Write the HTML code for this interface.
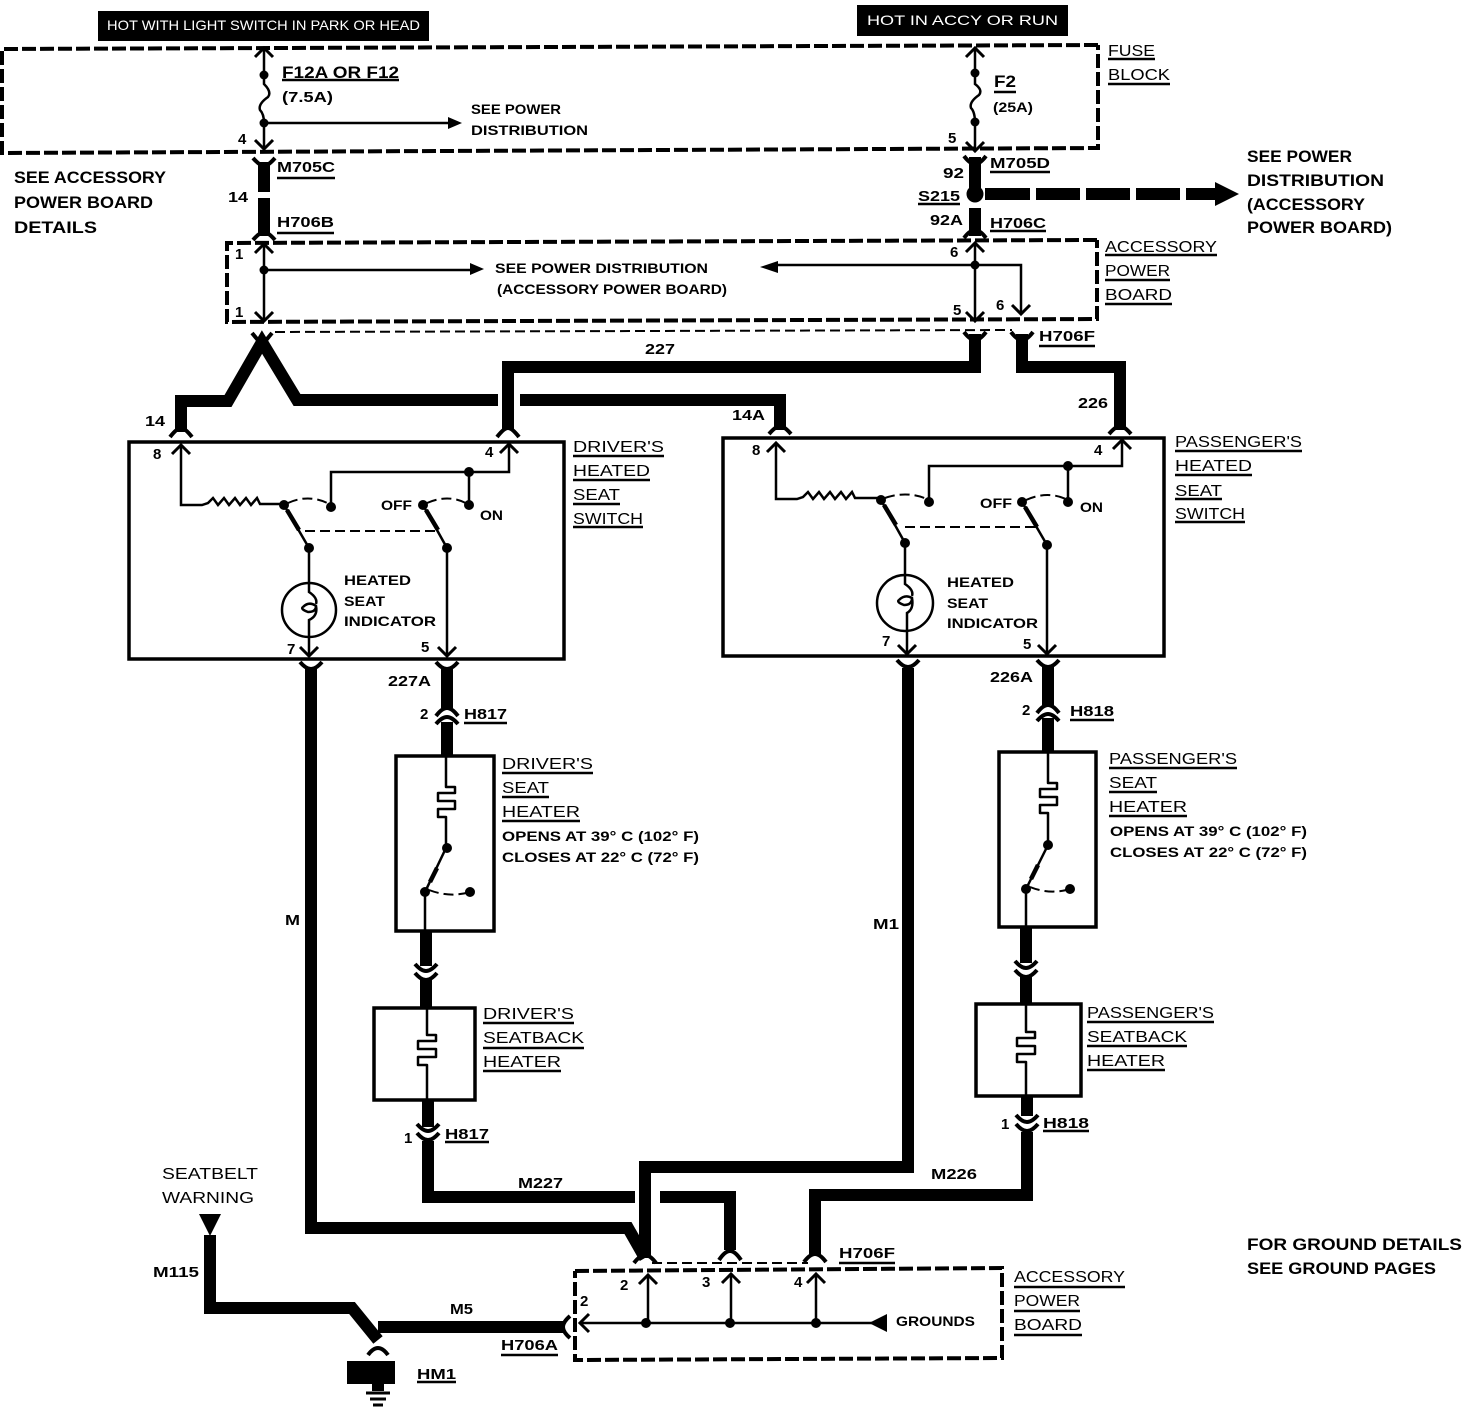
<!DOCTYPE html>
<html><head><meta charset="utf-8"><style>
html,body{margin:0;padding:0;background:#fff}
svg{display:block}
text{font-family:"Liberation Sans",sans-serif;font-weight:bold;fill:#000}
.a{font-size:17px}.b{font-size:15px}.c{font-size:13.5px}.d{font-size:15px}.w{fill:#fff;font-size:14px;font-weight:normal}
.n{font-size:16px;font-weight:normal}
</style></head><body>
<svg width="1462" height="1408" viewBox="0 0 1462 1408" xmlns="http://www.w3.org/2000/svg">
<rect width="1462" height="1408" fill="#fff"/>
<rect x="98" y="11" width="331" height="30" fill="#000"/>
<rect x="857" y="5" width="211" height="31" fill="#000"/>
<text class="w" x="107" y="30" textLength="313" lengthAdjust="spacingAndGlyphs">HOT WITH LIGHT SWITCH IN PARK OR HEAD</text>
<text class="w" x="867" y="25" textLength="191" lengthAdjust="spacingAndGlyphs">HOT IN ACCY OR RUN</text>

<!-- dashed boxes -->
<g fill="none" stroke="#000" stroke-width="4" stroke-dasharray="14 4">
<path d="M1098 45L2 49V153L1098 148V45"/>
<path d="M1097 240L227 243V322L1097 319V240"/>
<path d="M575 1271L1002 1268V1358L575 1360V1271"/>
</g>
<g fill="none" stroke="#000" stroke-width="2" stroke-dasharray="10 5">
<path d="M275 332L1012 330"/>
<path d="M652 1263H808"/>
<path d="M305 531H437"/>
<path d="M905 527H1035"/>
<path d="M288 503Q310 493 331 505"/>
<path d="M427 503Q450 493 469 505"/>
<path d="M885 498Q908 490 929 500"/>
<path d="M1026 500Q1048 490 1068 500"/>
<path d="M429 890Q450 898 470 892"/>
<path d="M1030 887Q1050 895 1070 889"/>
</g>

<!-- thick wires -->
<g fill="none" stroke="#000" stroke-width="12" stroke-linejoin="miter">
<path d="M264 162V192M264 198V236"/>
<path d="M975 157V190M975 208V236"/>
<path d="M975 334V367H508V430"/>
<path d="M1022 334V367H1120V430"/>
<path d="M181 432V401H228L262 342L297 400H498M520 400H780V430"/>
<path d="M311 668V1228H628L645 1258"/>
<path d="M908 668V1167H645V1258"/>
<path d="M447 668V708M447 722V756"/>
<path d="M1048 665V705M1048 718V752"/>
<path d="M426 931V966M426 980V1007"/>
<path d="M1026 927V963M1026 976V1003"/>
<path d="M428 1100V1127M428 1141V1197H635M660 1197H730V1250"/>
<path d="M1027 1096V1116M1027 1132V1195H815V1255"/>
<path d="M210 1235V1308H352L378 1340M378 1327H565"/>
<path d="M985 194H1030M1036 194H1080M1086 194H1130M1136 194H1180M1186 194H1218"/>
</g>
<path d="M1215 182L1239 194L1215 206Z"/>
<circle cx="975" cy="194" r="8.5"/>
<path d="M199 1214H221L210 1236Z"/>
<rect x="347" y="1361" width="48" height="23"/>
<path d="M372 1384H384V1391H372Z"/>

<!-- connector forks -->
<g fill="none" stroke="#000" stroke-width="4">
<path d="M253 158Q260 166 264 166Q268 166 275 158"/>
<path d="M253 240Q260 232 264 232Q268 232 275 240"/>
<path d="M964 156Q970 164 975 164Q980 164 986 156"/>
<path d="M964 238Q970 230 975 230Q980 230 986 238"/>
<path d="M252 333L262 345L272 333"/>
<path d="M964 332Q970 340 975 340Q980 340 986 332"/>
<path d="M1011 332Q1017 340 1022 340Q1027 340 1033 332"/>
<path d="M170 437Q177 428 181 428Q185 428 192 437"/>
<path d="M497 437Q504 428 508 428Q512 428 519 437"/>
<path d="M769 434Q776 426 780 426Q784 426 791 434"/>
<path d="M1109 434Q1116 426 1120 426Q1124 426 1131 434"/>
<path d="M300 662Q306 669 311 669Q316 669 322 662"/>
<path d="M436 662Q442 669 447 669Q452 669 458 662"/>
<path d="M897 660Q903 667 908 667Q913 667 919 660"/>
<path d="M1037 660Q1043 667 1048 667Q1053 667 1059 660"/>
<path d="M436 716Q442 708 447 708Q452 708 458 716"/>
<path d="M436 724Q442 717 447 717Q452 717 458 724"/>
<path d="M1037 713Q1043 705 1048 705Q1053 705 1059 713"/>
<path d="M1037 721Q1043 714 1048 714Q1053 714 1059 721"/>
<path d="M415 964Q421 971 426 971Q431 971 437 964"/>
<path d="M415 973Q421 980 426 980Q431 980 437 973"/>
<path d="M1015 961Q1021 968 1026 968Q1031 968 1037 961"/>
<path d="M1015 970Q1021 977 1026 977Q1031 977 1037 970"/>
<path d="M417 1124Q423 1131 428 1131Q433 1131 439 1124"/>
<path d="M417 1133Q423 1140 428 1140Q433 1140 439 1133"/>
<path d="M1016 1115Q1022 1122 1027 1122Q1032 1122 1038 1115"/>
<path d="M1016 1124Q1022 1131 1027 1131Q1032 1131 1038 1124"/>
<path d="M634 1263Q640 1255 645 1255Q650 1255 656 1263"/>
<path d="M719 1260Q725 1251 730 1251Q735 1251 741 1260"/>
<path d="M804 1262Q810 1254 815 1254Q820 1254 826 1262"/>
<path d="M368 1355Q373 1348 378 1348Q383 1348 388 1355"/>
<path d="M570 1316Q563 1322 563 1327Q563 1332 570 1338"/>
</g>

<!-- thin wires -->
<g fill="none" stroke="#000" stroke-width="2.5">
<path d="M264 48V84Q272 92 268 97Q258 104 260 110Q264 114 264 123V148"/>
<path d="M975 48V84Q983 90 979 95Q969 102 971 108Q975 112 975 123V150"/>
<path d="M264 123H450"/>
<path d="M264 244V320M264 270H475"/>
<path d="M975 244V320M975 265H775M975 265H1021V314"/>
<path d="M181 445V505H202L208 503 213 498 218 505 224 498 229 505 235 498 240 505 246 498 251 505 257 498 260 504H284"/>
<path d="M331 507V472H509V444"/>
<path d="M469 472V505"/>
<path d="M284 505L309 548V582M309 636V656"/>
<path d="M423 505L447 548V656"/>
<path d="M309 582V592Q318 598 316 604M303 607Q309 601 316 606Q316 612 308 612Q300 609 303 607M316 606Q318 616 309 620V636"/>
<circle cx="309" cy="610" r="27"/>
<path d="M776 443V499H797L803 497 808 492 813 499 819 492 824 499 830 492 835 499 841 492 846 499 852 492 855 498H881"/>
<path d="M929 502V466H1122V440"/>
<path d="M1068 466V502"/>
<path d="M881 500L905 543V575M907 630V654"/>
<path d="M1022 502L1047 545V654"/>
<path d="M905 575V584Q914 590 912 596M899 600Q905 594 912 598Q912 605 904 605Q896 602 899 600M912 598Q914 609 907 613V630"/>
<circle cx="905" cy="603" r="28"/>
<path stroke-linejoin="round" d="M446 757V787H455V793H438V801H455V809H438V817H446V848L425 892V931"/>
<path stroke-linejoin="round" d="M1048 753V783H1057V789H1040V797H1057V805H1040V813H1048V845L1026 889V927"/>
<path stroke-linejoin="round" d="M427 1008V1035H436V1041H418V1049H436V1057H418V1065H427V1100"/>
<path stroke-linejoin="round" d="M1026 1004V1032H1035V1038H1017V1046H1035V1054H1017V1062H1026V1096"/>
<path d="M648 1323V1275M731 1323V1274M816 1323V1274M580 1323H872"/>
</g>
<g fill="none" stroke="#000" stroke-width="3">
<path d="M255 57L264 48L273 57"/>
<path d="M255 140L264 149L273 140"/>
<path d="M966 57L975 48L984 57"/>
<path d="M966 142L975 151L984 142"/>
<path d="M255 253L264 244L273 253"/>
<path d="M255 312L264 321L273 312"/>
<path d="M966 252L975 243L984 252"/>
<path d="M966 312L975 321L984 312"/>
<path d="M1012 305L1021 314L1030 305"/>
<path d="M172 454L181 445L190 454"/>
<path d="M500 453L509 444L518 453"/>
<path d="M767 452L776 443L785 452"/>
<path d="M1113 449L1122 440L1131 449"/>
<path d="M300 647L309 656L318 647"/>
<path d="M438 647L447 656L456 647"/>
<path d="M898 645L907 654L916 645"/>
<path d="M1038 645L1047 654L1056 645"/>
<path d="M639 1284L648 1275L657 1284"/>
<path d="M722 1283L731 1274L740 1283"/>
<path d="M807 1283L816 1274L825 1283"/>
<path d="M589 1314L580 1323L589 1332"/>
</g>
<path d="M448 117L462 123L448 129Z"/>
<path d="M470 263L484 269L470 275Z"/>
<path d="M760 267L778 261V273Z"/>
<path d="M869 1323L887 1314V1332Z"/>
<path d="M287 510L299 530" stroke="#000" stroke-width="4.5"/>
<path d="M426 510L438 530" stroke="#000" stroke-width="4.5"/>
<path d="M884 505L896 525" stroke="#000" stroke-width="4.5"/>
<path d="M1025 507L1037 527" stroke="#000" stroke-width="4.5"/>
<path d="M430 882L437 868" stroke="#000" stroke-width="4.5"/>
<path d="M1031 879L1038 865" stroke="#000" stroke-width="4.5"/>

<!-- boxes -->
<g fill="none" stroke="#000" stroke-width="3.5">
<rect x="129" y="442" width="435" height="217"/>
<rect x="723" y="438" width="441" height="218"/>
<rect x="396" y="756" width="98" height="175"/>
<rect x="999" y="752" width="97" height="175"/>
<rect x="374" y="1008" width="101" height="92"/>
<rect x="976" y="1004" width="105" height="92"/>
</g>

<!-- dots -->
<g>
<circle cx="264" cy="75" r="4.5"/><circle cx="264" cy="123" r="4.5"/>
<circle cx="975" cy="73" r="4.5"/><circle cx="975" cy="122" r="4.5"/>
<circle cx="264" cy="270" r="4.5"/><circle cx="975" cy="265" r="4.5"/>
<circle cx="284" cy="505" r="5"/><circle cx="331" cy="507" r="5"/><circle cx="469" cy="472" r="5"/><circle cx="469" cy="505" r="5"/><circle cx="423" cy="505" r="5"/><circle cx="309" cy="548" r="5"/><circle cx="447" cy="548" r="5"/>
<circle cx="881" cy="500" r="5"/><circle cx="929" cy="502" r="5"/><circle cx="1068" cy="466" r="5"/><circle cx="1068" cy="502" r="5"/><circle cx="1022" cy="502" r="5"/><circle cx="905" cy="543" r="5"/><circle cx="1047" cy="545" r="5"/>
<circle cx="447" cy="848" r="5"/><circle cx="425" cy="892" r="5"/><circle cx="470" cy="892" r="5"/>
<circle cx="1048" cy="845" r="5"/><circle cx="1026" cy="889" r="5"/><circle cx="1070" cy="889" r="5"/>
<circle cx="646" cy="1323" r="5"/><circle cx="730" cy="1323" r="5"/><circle cx="816" cy="1323" r="5"/>
</g>
<path d="M366 1393H390M370 1399H386M373 1405H383" stroke="#000" stroke-width="3" fill="none"/>

<!-- underlines -->
<path fill="none" stroke="#000" stroke-width="2.5" d="M282 80H399M277 178H335M277 233H334M994 92H1016M1108 59H1155M1108 84H1170M990 172H1050M918 204H960M990 231H1046M1105 255H1217M1105 280H1170M1105 304H1172M1039 346H1095M573 456H664M573 480H650M573 504H620M573 527H643M1175 451H1302M1175 475H1252M1175 499H1222M1175 522H1245M464 723H507M1070 720H1114M502 773H593M502 797H549M502 821H580M1109 768H1237M1109 792H1157M1109 816H1187M483 1023H574M483 1048H584M483 1071H561M1087 1022H1214M1087 1046H1187M1087 1070H1165M445 1142H489M1043 1131H1089M839 1263H895M1014 1287H1125M1014 1311H1080M1014 1335H1082M417 1382H456M501 1355H558"/>

<!-- labels -->
<text class="a" x="282" y="78" textLength="117" lengthAdjust="spacingAndGlyphs">F12A OR F12</text>
<text class="b" x="282" y="102" textLength="51" lengthAdjust="spacingAndGlyphs">(7.5A)</text>
<text class="c" x="471" y="114" textLength="90" lengthAdjust="spacingAndGlyphs">SEE POWER</text>
<text class="c" x="471" y="135" textLength="117" lengthAdjust="spacingAndGlyphs">DISTRIBUTION</text>
<text class="d" x="238" y="144">4</text>
<text class="b" x="277" y="172" textLength="58" lengthAdjust="spacingAndGlyphs">M705C</text>
<text class="b" x="228" y="202" textLength="20" lengthAdjust="spacingAndGlyphs">14</text>
<text class="b" x="277" y="227" textLength="57" lengthAdjust="spacingAndGlyphs">H706B</text>
<text class="a" x="14" y="183" textLength="152" lengthAdjust="spacingAndGlyphs">SEE ACCESSORY</text>
<text class="a" x="14" y="208" textLength="139" lengthAdjust="spacingAndGlyphs">POWER BOARD</text>
<text class="a" x="14" y="233" textLength="83" lengthAdjust="spacingAndGlyphs">DETAILS</text>
<text class="d" x="235" y="259">1</text><text class="d" x="235" y="317">1</text>
<text class="c" x="495" y="273" textLength="213" lengthAdjust="spacingAndGlyphs">SEE POWER DISTRIBUTION</text>
<text class="c" x="497" y="294" textLength="230" lengthAdjust="spacingAndGlyphs">(ACCESSORY POWER BOARD)</text>
<text class="a" x="994" y="87" textLength="22" lengthAdjust="spacingAndGlyphs">F2</text>
<text class="c" x="993" y="112" textLength="40" lengthAdjust="spacingAndGlyphs">(25A)</text>
<text class="d" x="948" y="143">5</text>
<text class="n" x="1108" y="56" textLength="47" lengthAdjust="spacingAndGlyphs">FUSE</text>
<text class="n" x="1108" y="80" textLength="62" lengthAdjust="spacingAndGlyphs">BLOCK</text>
<text class="b" x="990" y="168" textLength="60" lengthAdjust="spacingAndGlyphs">M705D</text>
<text class="b" x="943" y="178" textLength="21" lengthAdjust="spacingAndGlyphs">92</text>
<text class="b" x="918" y="201" textLength="42" lengthAdjust="spacingAndGlyphs">S215</text>
<text class="b" x="930" y="225" textLength="33" lengthAdjust="spacingAndGlyphs">92A</text>
<text class="b" x="990" y="228" textLength="56" lengthAdjust="spacingAndGlyphs">H706C</text>
<text class="a" x="1247" y="162" textLength="105" lengthAdjust="spacingAndGlyphs">SEE POWER</text>
<text class="a" x="1247" y="186" textLength="137" lengthAdjust="spacingAndGlyphs">DISTRIBUTION</text>
<text class="a" x="1247" y="210" textLength="118" lengthAdjust="spacingAndGlyphs">(ACCESSORY</text>
<text class="a" x="1247" y="233" textLength="145" lengthAdjust="spacingAndGlyphs">POWER BOARD)</text>
<text class="d" x="950" y="257">6</text><text class="d" x="953" y="315">5</text><text class="d" x="996" y="310">6</text>
<text class="n" x="1105" y="252" textLength="112" lengthAdjust="spacingAndGlyphs">ACCESSORY</text>
<text class="n" x="1105" y="276" textLength="65" lengthAdjust="spacingAndGlyphs">POWER</text>
<text class="n" x="1105" y="300" textLength="67" lengthAdjust="spacingAndGlyphs">BOARD</text>
<text class="b" x="1039" y="341" textLength="56" lengthAdjust="spacingAndGlyphs">H706F</text>
<text class="b" x="645" y="354" textLength="30" lengthAdjust="spacingAndGlyphs">227</text>
<text class="b" x="1078" y="408" textLength="30" lengthAdjust="spacingAndGlyphs">226</text>
<text class="b" x="145" y="426" textLength="20" lengthAdjust="spacingAndGlyphs">14</text>
<text class="b" x="732" y="420" textLength="33" lengthAdjust="spacingAndGlyphs">14A</text>
<text class="d" x="153" y="459">8</text><text class="d" x="485" y="457">4</text>
<text class="d" x="752" y="455">8</text><text class="d" x="1094" y="455">4</text>
<text class="n" x="573" y="452" textLength="91" lengthAdjust="spacingAndGlyphs">DRIVER'S</text>
<text class="n" x="573" y="476" textLength="77" lengthAdjust="spacingAndGlyphs">HEATED</text>
<text class="n" x="573" y="500" textLength="47" lengthAdjust="spacingAndGlyphs">SEAT</text>
<text class="n" x="573" y="524" textLength="70" lengthAdjust="spacingAndGlyphs">SWITCH</text>
<text class="n" x="1175" y="447" textLength="127" lengthAdjust="spacingAndGlyphs">PASSENGER'S</text>
<text class="n" x="1175" y="471" textLength="77" lengthAdjust="spacingAndGlyphs">HEATED</text>
<text class="n" x="1175" y="496" textLength="47" lengthAdjust="spacingAndGlyphs">SEAT</text>
<text class="n" x="1175" y="519" textLength="70" lengthAdjust="spacingAndGlyphs">SWITCH</text>
<text class="c" x="381" y="510" textLength="31" lengthAdjust="spacingAndGlyphs">OFF</text>
<text class="c" x="480" y="520" textLength="23" lengthAdjust="spacingAndGlyphs">ON</text>
<text class="c" x="980" y="508" textLength="32" lengthAdjust="spacingAndGlyphs">OFF</text>
<text class="c" x="1080" y="512" textLength="23" lengthAdjust="spacingAndGlyphs">ON</text>
<text class="c" x="344" y="585" textLength="67" lengthAdjust="spacingAndGlyphs">HEATED</text>
<text class="c" x="344" y="606" textLength="41" lengthAdjust="spacingAndGlyphs">SEAT</text>
<text class="c" x="344" y="626" textLength="92" lengthAdjust="spacingAndGlyphs">INDICATOR</text>
<text class="c" x="947" y="587" textLength="67" lengthAdjust="spacingAndGlyphs">HEATED</text>
<text class="c" x="947" y="608" textLength="41" lengthAdjust="spacingAndGlyphs">SEAT</text>
<text class="c" x="947" y="628" textLength="91" lengthAdjust="spacingAndGlyphs">INDICATOR</text>
<text class="d" x="287" y="654">7</text><text class="d" x="421" y="652">5</text>
<text class="d" x="882" y="646">7</text><text class="d" x="1023" y="649">5</text>
<text class="b" x="388" y="686" textLength="43" lengthAdjust="spacingAndGlyphs">227A</text>
<text class="b" x="420" y="719">2</text>
<text class="b" x="464" y="719" textLength="43" lengthAdjust="spacingAndGlyphs">H817</text>
<text class="b" x="990" y="682" textLength="43" lengthAdjust="spacingAndGlyphs">226A</text>
<text class="b" x="1022" y="715">2</text>
<text class="b" x="1070" y="716" textLength="44" lengthAdjust="spacingAndGlyphs">H818</text>
<text class="n" x="502" y="769" textLength="91" lengthAdjust="spacingAndGlyphs">DRIVER'S</text>
<text class="n" x="502" y="793" textLength="47" lengthAdjust="spacingAndGlyphs">SEAT</text>
<text class="n" x="502" y="817" textLength="78" lengthAdjust="spacingAndGlyphs">HEATER</text>
<text class="c" x="502" y="841" textLength="197" lengthAdjust="spacingAndGlyphs">OPENS AT 39° C (102° F)</text>
<text class="c" x="502" y="862" textLength="197" lengthAdjust="spacingAndGlyphs">CLOSES AT 22° C (72° F)</text>
<text class="n" x="1109" y="764" textLength="128" lengthAdjust="spacingAndGlyphs">PASSENGER'S</text>
<text class="n" x="1109" y="788" textLength="48" lengthAdjust="spacingAndGlyphs">SEAT</text>
<text class="n" x="1109" y="812" textLength="78" lengthAdjust="spacingAndGlyphs">HEATER</text>
<text class="c" x="1110" y="836" textLength="197" lengthAdjust="spacingAndGlyphs">OPENS AT 39° C (102° F)</text>
<text class="c" x="1110" y="857" textLength="197" lengthAdjust="spacingAndGlyphs">CLOSES AT 22° C (72° F)</text>
<text class="n" x="483" y="1019" textLength="91" lengthAdjust="spacingAndGlyphs">DRIVER'S</text>
<text class="n" x="483" y="1043" textLength="101" lengthAdjust="spacingAndGlyphs">SEATBACK</text>
<text class="n" x="483" y="1067" textLength="78" lengthAdjust="spacingAndGlyphs">HEATER</text>
<text class="n" x="1087" y="1018" textLength="127" lengthAdjust="spacingAndGlyphs">PASSENGER'S</text>
<text class="n" x="1087" y="1042" textLength="100" lengthAdjust="spacingAndGlyphs">SEATBACK</text>
<text class="n" x="1087" y="1066" textLength="78" lengthAdjust="spacingAndGlyphs">HEATER</text>
<text class="b" x="285" y="925" textLength="15" lengthAdjust="spacingAndGlyphs">M</text>
<text class="b" x="873" y="929" textLength="26" lengthAdjust="spacingAndGlyphs">M1</text>
<text class="b" x="404" y="1143">1</text>
<text class="b" x="445" y="1139" textLength="44" lengthAdjust="spacingAndGlyphs">H817</text>
<text class="b" x="1001" y="1129">1</text>
<text class="b" x="1043" y="1128" textLength="46" lengthAdjust="spacingAndGlyphs">H818</text>
<text class="b" x="518" y="1188" textLength="45" lengthAdjust="spacingAndGlyphs">M227</text>
<text class="b" x="931" y="1179" textLength="46" lengthAdjust="spacingAndGlyphs">M226</text>
<text class="b" x="839" y="1258" textLength="56" lengthAdjust="spacingAndGlyphs">H706F</text>
<text class="n" x="162" y="1179" textLength="96" lengthAdjust="spacingAndGlyphs">SEATBELT</text>
<text class="n" x="162" y="1203" textLength="92" lengthAdjust="spacingAndGlyphs">WARNING</text>
<text class="b" x="153" y="1277" textLength="46" lengthAdjust="spacingAndGlyphs">M115</text>
<text class="b" x="450" y="1314" textLength="23" lengthAdjust="spacingAndGlyphs">M5</text>
<text class="b" x="501" y="1350" textLength="57" lengthAdjust="spacingAndGlyphs">H706A</text>
<text class="d" x="620" y="1290">2</text><text class="d" x="702" y="1287">3</text><text class="d" x="794" y="1287">4</text><text class="d" x="580" y="1306">2</text>
<text class="c" x="896" y="1326" textLength="79" lengthAdjust="spacingAndGlyphs">GROUNDS</text>
<text class="n" x="1014" y="1282" textLength="111" lengthAdjust="spacingAndGlyphs">ACCESSORY</text>
<text class="n" x="1014" y="1306" textLength="66" lengthAdjust="spacingAndGlyphs">POWER</text>
<text class="n" x="1014" y="1330" textLength="68" lengthAdjust="spacingAndGlyphs">BOARD</text>
<text class="a" x="1247" y="1250" textLength="215" lengthAdjust="spacingAndGlyphs">FOR GROUND DETAILS</text>
<text class="a" x="1247" y="1274" textLength="189" lengthAdjust="spacingAndGlyphs">SEE GROUND PAGES</text>
<text class="b" x="417" y="1379" textLength="39" lengthAdjust="spacingAndGlyphs">HM1</text>
</svg>
</body></html>
